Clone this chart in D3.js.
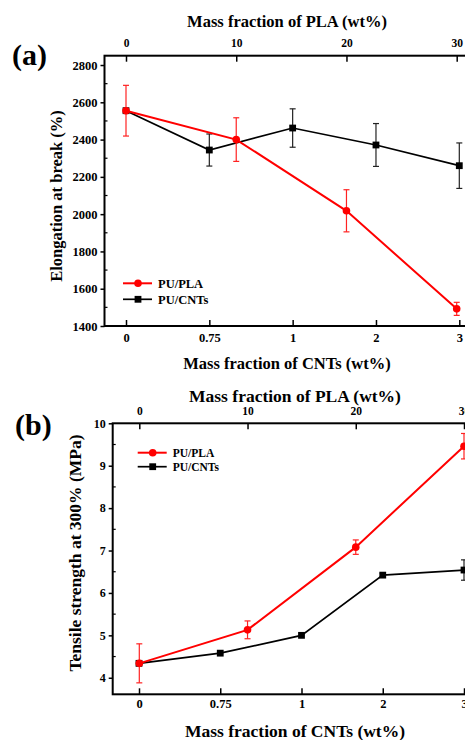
<!DOCTYPE html>
<html>
<head>
<meta charset="utf-8">
<script src="https://cdn.jsdelivr.net/npm/d3@7"></script>
<style>
  html, body { margin: 0; padding: 0; background: #fff; }
  svg text { font-family: "Liberation Serif", "Times New Roman", serif; font-weight: bold; }
</style>
</head>
<body>
<script>
const width = 465;
const height = 740;

// shared axes
const cntLabels = ["0", "0.75", "1", "2", "3"];
const plaTicks = [0, 10, 20, 30];
const plaValues = [0, 10, 20, 30];

// (a) elongation at break (%)
const elongTicks = [1400, 1600, 1800, 2000, 2200, 2400, 2600, 2800];
const elongCNT = [2555, 2344, 2462, 2371, 2260];
const elongCNTErr = [0, 86, 103, 115, 122];
const elongPLA = [2555, 2400, 2018, 1492];
const elongPLAErr = [136, 117, 113, 35];

// (b) tensile strength at 300% (MPa)
const tensTicks = [4, 5, 6, 7, 8, 9, 10];
const tensCNT = [4.34, 4.58, 5.0, 6.42, 6.54];
const tensCNTErr = [0, 0, 0, 0.04, 0.24];
const tensPLA = [4.34, 5.13, 7.08, 9.46];
const tensPLAErr = [0.46, 0.21, 0.17, 0.30];

const svg = d3.select('body')
  .append('svg')
  .attr('width', width)
  .attr('height', height)
  .attr('font-family', 'Liberation Serif')
  .attr('font-weight', 'bold');

function drawPanel(p) {
  const g = svg.append('g');

  const xBottom = d3.scalePoint().domain(cntLabels).range([p.x0, p.x1]);
  const xTop = d3.scaleLinear().domain([0, 30]).range([p.t0, p.t1]);
  const y = d3.scaleLinear().domain(p.yDomain).range([p.bottom, p.top]);

  // frame
  g.append('rect')
    .attr('x', p.left).attr('y', p.top)
    .attr('width', p.right - p.left).attr('height', p.bottom - p.top)
    .attr('fill', 'none').attr('stroke', '#000').attr('stroke-width', 2);

  // y axis
  const yAxis = g.append('g').attr('transform', `translate(${p.left},0)`)
    .call(d3.axisLeft(y).tickValues(p.yTicks).tickSize(4).tickPadding(3).tickFormat(d3.format('d')));
  yAxis.attr('font-family', null);
  yAxis.select('.domain').remove();
  yAxis.selectAll('line').attr('stroke-width', 1.5);
  yAxis.selectAll('text').attr('font-size', p.yFont).attr('fill', '#000');

  // y minor ticks (inward)
  const minor = d3.pairs(p.yTicks).map(d => (d[0] + d[1]) / 2);
  g.selectAll('.minor').data(minor).enter().append('line')
    .attr('x1', p.left).attr('x2', p.left + 3)
    .attr('y1', d => y(d)).attr('y2', d => y(d))
    .attr('stroke', '#000').attr('stroke-width', 1.2);

  // bottom axis (ticks inward)
  const xb = g.append('g').attr('transform', `translate(0,${p.bottom})`)
    .call(d3.axisBottom(xBottom).tickSize(-6).tickPadding(0));
  xb.attr('font-family', null);
  xb.select('.domain').remove();
  xb.selectAll('line').attr('stroke-width', 1.5);
  xb.selectAll('text').attr('dy', null).attr('y', p.bLabelDy)
    .attr('font-size', 12.5).attr('fill', '#000');

  // top axis (ticks inward)
  const xt = g.append('g').attr('transform', `translate(0,${p.top})`)
    .call(d3.axisTop(xTop).tickValues(plaTicks).tickSize(-6).tickPadding(0));
  xt.attr('font-family', null);
  xt.select('.domain').remove();
  xt.selectAll('line').attr('stroke-width', 1.5);
  xt.selectAll('text').attr('dy', null).attr('y', p.tLabelDy)
    .attr('font-size', 11.5).attr('fill', '#000');

  // axis titles
  g.append('text').text('Mass fraction of PLA (wt%)')
    .attr('x', p.titleX).attr('y', p.topTitleY).attr('text-anchor', 'middle')
    .attr('font-size', p.titleFont);
  g.append('text').text('Mass fraction of CNTs (wt%)')
    .attr('x', p.titleX).attr('y', p.bottomTitleY).attr('text-anchor', 'middle')
    .attr('font-size', p.titleFont);
  g.append('text').text(p.yTitle)
    .attr('transform', `translate(${p.yTitleX},${p.yTitleY}) rotate(-90)`)
    .attr('text-anchor', 'middle')
    .attr('font-size', p.titleFont);

  // panel letter
  g.append('text').text(p.letter)
    .attr('x', p.letterX).attr('y', p.letterY)
    .attr('font-size', 30);

  const cnt = cntLabels.map((c, i) => ({ x: xBottom(c), v: p.cnt[i], e: p.cntErr[i] }));
  const plaPts = plaValues.map((c, i) => ({ x: xTop(c), v: p.pla[i], e: p.plaErr[i] }));

  const line = d3.line().x(d => d.x).y(d => y(d.v));

  function errorBars(data, color, w) {
    const eb = g.append('g').attr('stroke', color).attr('stroke-width', w);
    data.filter(d => d.e > 0).forEach(d => {
      eb.append('line').attr('x1', d.x).attr('x2', d.x).attr('y1', y(d.v - d.e)).attr('y2', y(d.v + d.e));
      eb.append('line').attr('x1', d.x - 3).attr('x2', d.x + 3).attr('y1', y(d.v - d.e)).attr('y2', y(d.v - d.e));
      eb.append('line').attr('x1', d.x - 3).attr('x2', d.x + 3).attr('y1', y(d.v + d.e)).attr('y2', y(d.v + d.e));
    });
  }

  // PU/CNTs series (black squares, bottom axis)
  errorBars(cnt, '#222', 1.2);
  g.append('path').datum(cnt).attr('d', line)
    .attr('fill', 'none').attr('stroke', '#000').attr('stroke-width', 1.7);
  g.selectAll('.sq').data(cnt).enter().append('rect')
    .attr('x', d => d.x - 3.4).attr('y', d => y(d.v) - 3.4)
    .attr('width', 6.8).attr('height', 6.8).attr('fill', '#000');

  // PU/PLA series (red circles, top axis)
  errorBars(plaPts, '#f22', 1.2);
  g.append('path').datum(plaPts).attr('d', line)
    .attr('fill', 'none').attr('stroke', '#ff0000').attr('stroke-width', 2);
  g.selectAll('.ci').data(plaPts).enter().append('circle')
    .attr('cx', d => d.x).attr('cy', d => y(d.v)).attr('r', 3.8).attr('fill', '#ff0000');

  // legend
  const lg = g.append('g');
  const rows = [
    { name: 'PU/PLA', color: '#ff0000', shape: 'circle', w: 2 },
    { name: 'PU/CNTs', color: '#000', shape: 'square', w: 1.7 }
  ];
  rows.forEach((r, i) => {
    const ly = p.legY + i * p.legGap;
    lg.append('line').attr('x1', p.legX).attr('x2', p.legX + 29)
      .attr('y1', ly).attr('y2', ly).attr('stroke', r.color).attr('stroke-width', r.w);
    if (r.shape === 'circle') {
      lg.append('circle').attr('cx', p.legX + 15).attr('cy', ly).attr('r', 3.8).attr('fill', r.color);
    } else {
      lg.append('rect').attr('x', p.legX + 15 - 3.4).attr('y', ly - 3.4)
        .attr('width', 6.8).attr('height', 6.8).attr('fill', r.color);
    }
    lg.append('text').text(r.name)
      .attr('x', p.legX + 35).attr('y', ly + 4.3)
      .attr('font-size', p.legFont);
  });
}

drawPanel({
  letter: '(a)', letterX: 12, letterY: 65,
  left: 104.5, right: 484, top: 55.7, bottom: 326,
  x0: 126, x1: 459.3, t0: 126, t1: 456.7,
  yDomain: [1400, 2850], yTicks: elongTicks, yFont: 12.5,
  cnt: elongCNT, cntErr: elongCNTErr, pla: elongPLA, plaErr: elongPLAErr,
  bLabelDy: 16, tLabelDy: -9,
  titleX: 287, topTitleY: 26.5, bottomTitleY: 369, titleFont: 16.5,
  yTitle: 'Elongation at break (%)', yTitleX: 62, yTitleY: 196,
  legX: 123, legY: 283.3, legGap: 16, legFont: 12.5
});

drawPanel({
  letter: '(b)', letterX: 15, letterY: 435,
  left: 112.7, right: 490, top: 423.3, bottom: 694.3,
  x0: 139, x1: 464, t0: 139.3, t1: 464,
  yDomain: [3.61, 10], yTicks: tensTicks, yFont: 12,
  cnt: tensCNT, cntErr: tensCNTErr, pla: tensPLA, plaErr: tensPLAErr,
  bLabelDy: 14, tLabelDy: -8.5,
  titleX: 295, topTitleY: 401.5, bottomTitleY: 736.5, titleFont: 17.5,
  yTitle: 'Tensile strength at 300% (MPa)', yTitleX: 80.5, yTitleY: 553,
  legX: 137.7, legY: 452.7, legGap: 14, legFont: 11.5
});
</script>
</body>
</html>
